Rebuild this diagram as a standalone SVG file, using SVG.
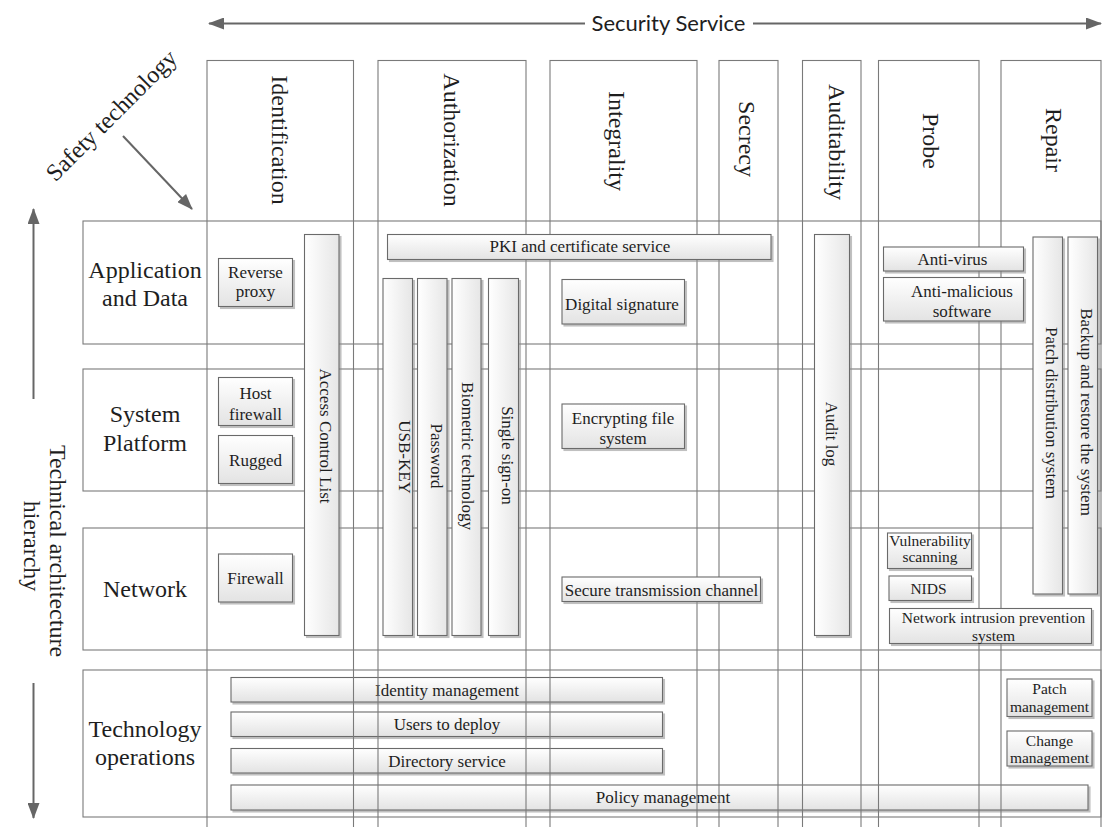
<svg xmlns="http://www.w3.org/2000/svg" width="1102" height="827" viewBox="0 0 1102 827">
  <defs>
    <linearGradient id="gH" x1="0" y1="0" x2="0" y2="1">
      <stop offset="0" stop-color="#ffffff"/>
      <stop offset="1" stop-color="#e3e3e3"/>
    </linearGradient>
    <linearGradient id="gV" x1="0" y1="0" x2="1" y2="0">
      <stop offset="0" stop-color="#ffffff"/>
      <stop offset="1" stop-color="#e6e6e6"/>
    </linearGradient>
    <filter id="shadow" x="-10%" y="-10%" width="130%" height="130%">
      <feDropShadow dx="2" dy="2" stdDeviation="0.7" flood-color="#8c8c8c" flood-opacity="0.55"/>
    </filter>
    <marker id="arrow" viewBox="0 0 16 12" refX="15" refY="6" markerWidth="16" markerHeight="12" markerUnits="userSpaceOnUse" orient="auto">
      <path d="M0,0 L16,6 L0,12 Z" fill="#666666"/>
    </marker>
    <style>
      .frame { fill: none; stroke: #7a7a7a; stroke-width: 1.1; }
      .hbox { fill: url(#gH); stroke: #6a6a6a; stroke-width: 1.1; filter: url(#shadow); }
      .vbox { fill: url(#gV); stroke: #6a6a6a; stroke-width: 1.1; filter: url(#shadow); }
      .conn { fill: none; stroke: #666666; stroke-width: 2; }
      .hdr { font-family: "Liberation Serif", "Times New Roman", serif; font-size: 24px; fill: #1e1e1e; text-anchor: middle; }
      .lbl { font-family: "Liberation Serif", "Times New Roman", serif; font-size: 17px; fill: #1e1e1e; text-anchor: middle; }
      .sm { font-size: 15.5px; }
      .sans { font-family: Lato, "Liberation Sans", Arial, sans-serif; font-size: 21px; fill: #1e1e1e; text-anchor: middle; }
    </style>
  </defs>

  <rect width="1102" height="827" fill="#ffffff"/>

  <!-- architecture layers (rows) -->
  <g id="rows">
    <g id="row-app">
      <rect class="frame" x="83" y="221" width="1018" height="123"/>
      <text class="hdr" x="145" y="278">Application</text>
      <text class="hdr" x="145" y="306">and Data</text>
    </g>
    <g id="row-sys">
      <rect class="frame" x="83" y="369" width="1018" height="122"/>
      <text class="hdr" x="145" y="422">System</text>
      <text class="hdr" x="145" y="451">Platform</text>
    </g>
    <g id="row-net">
      <rect class="frame" x="83" y="528" width="1018" height="122"/>
      <text class="hdr" x="145" y="597">Network</text>
    </g>
    <g id="row-ops">
      <rect class="frame" x="83" y="670" width="1018" height="147"/>
      <text class="hdr" x="145" y="737">Technology</text>
      <text class="hdr" x="145" y="765">operations</text>
    </g>
  </g>

  <!-- operations boxes (sit under the column lines) -->
  <g id="ops-boxes">
    <g id="identity-management">
      <rect class="hbox" x="231" y="677.5" width="431.5" height="24.5"/>
      <text class="lbl" x="447" y="695.5">Identity management</text>
    </g>
    <g id="users-to-deploy">
      <rect class="hbox" x="231" y="712" width="431.5" height="24.5"/>
      <text class="lbl" x="447" y="730">Users to deploy</text>
    </g>
    <g id="directory-service">
      <rect class="hbox" x="231" y="748.5" width="431.5" height="24.5"/>
      <text class="lbl" x="447" y="766.5">Directory service</text>
    </g>
    <g id="policy-management">
      <rect class="hbox" x="231" y="785" width="857" height="25"/>
      <text class="lbl" x="663" y="803">Policy management</text>
    </g>
    <g id="patch-management">
      <rect class="hbox" x="1007" y="679" width="85" height="37.5"/>
      <text class="lbl sm" x="1049.5" y="694">Patch</text>
      <text class="lbl sm" x="1049.5" y="711.5">management</text>
    </g>
    <g id="change-management">
      <rect class="hbox" x="1007" y="731" width="85" height="35"/>
      <text class="lbl sm" x="1049.5" y="745.5">Change</text>
      <text class="lbl sm" x="1049.5" y="763">management</text>
    </g>
  </g>

  <!-- security services (columns) -->
  <g id="columns">
    <g id="col-identification">
      <rect class="frame" x="207" y="60.5" width="146.5" height="780"/>
      <text class="hdr" transform="translate(272,140) rotate(90)">Identification</text>
    </g>
    <g id="col-authorization">
      <rect class="frame" x="378" y="60.5" width="148" height="780"/>
      <text class="hdr" transform="translate(444,140) rotate(90)">Authorization</text>
    </g>
    <g id="col-integrality">
      <rect class="frame" x="550" y="60.5" width="147" height="780"/>
      <text class="hdr" transform="translate(609,141) rotate(90)">Integrality</text>
    </g>
    <g id="col-secrecy">
      <rect class="frame" x="719" y="60.5" width="59" height="780"/>
      <text class="hdr" transform="translate(739,139) rotate(90)">Secrecy</text>
    </g>
    <g id="col-auditability">
      <rect class="frame" x="802.5" y="60.5" width="58.5" height="780"/>
      <text class="hdr" transform="translate(829,142) rotate(90)">Auditability</text>
    </g>
    <g id="col-probe">
      <rect class="frame" x="878.5" y="60.5" width="100.5" height="780"/>
      <text class="hdr" transform="translate(923,141) rotate(90)">Probe</text>
    </g>
    <g id="col-repair">
      <rect class="frame" x="1001" y="60.5" width="100" height="780"/>
      <text class="hdr" transform="translate(1046,140) rotate(90)">Repair</text>
    </g>
  </g>

  <!-- technology boxes -->
  <g id="tech-boxes">
    <g id="reverse-proxy">
      <rect class="hbox" x="218.5" y="258.5" width="74" height="48"/>
      <text class="lbl" x="255.5" y="278">Reverse</text>
      <text class="lbl" x="255.5" y="297">proxy</text>
    </g>
    <g id="host-firewall">
      <rect class="hbox" x="218.5" y="377.5" width="74" height="48"/>
      <text class="lbl" x="255.5" y="399">Host</text>
      <text class="lbl" x="255.5" y="420">firewall</text>
    </g>
    <g id="rugged">
      <rect class="hbox" x="218.5" y="435.5" width="74" height="48"/>
      <text class="lbl" x="255.5" y="466">Rugged</text>
    </g>
    <g id="firewall">
      <rect class="hbox" x="218.5" y="554" width="74" height="48"/>
      <text class="lbl" x="255.5" y="584">Firewall</text>
    </g>
    <g id="access-control-list">
      <rect class="vbox" x="304.5" y="234.5" width="34.5" height="401"/>
      <text class="lbl" transform="translate(320,436) rotate(90)">Access Control List</text>
    </g>
    <g id="pki">
      <rect class="hbox" x="387.5" y="234.5" width="383.5" height="25"/>
      <text class="lbl" x="580" y="252">PKI and certificate service</text>
    </g>
    <g id="usb-key">
      <rect class="vbox" x="383" y="278.5" width="29.5" height="357"/>
      <text class="lbl" transform="translate(399,457) rotate(90)">USB-KEY</text>
    </g>
    <g id="password">
      <rect class="vbox" x="417.5" y="278.5" width="29.5" height="357"/>
      <text class="lbl" transform="translate(430.5,456) rotate(90)">Password</text>
    </g>
    <g id="biometric">
      <rect class="vbox" x="452" y="278.5" width="29" height="357"/>
      <text class="lbl" transform="translate(462,456) rotate(90)">Biometric technology</text>
    </g>
    <g id="single-sign-on">
      <rect class="vbox" x="488.5" y="278.5" width="30" height="357"/>
      <text class="lbl" transform="translate(502,455.5) rotate(90)">Single sign-on</text>
    </g>
    <g id="digital-signature">
      <rect class="hbox" x="562" y="279.5" width="122.5" height="44.5"/>
      <text class="lbl" x="622" y="309.5">Digital signature</text>
    </g>
    <g id="encrypting-fs">
      <rect class="hbox" x="562" y="404" width="122.5" height="44.5"/>
      <text class="lbl" x="623" y="423.5">Encrypting file</text>
      <text class="lbl" x="623" y="443.5">system</text>
    </g>
    <g id="secure-channel">
      <rect class="hbox" x="562" y="577" width="198.5" height="24.5"/>
      <text class="lbl" x="661.5" y="595.5">Secure transmission channel</text>
    </g>
    <g id="audit-log">
      <rect class="vbox" x="814.5" y="234.5" width="35" height="401"/>
      <text class="lbl" transform="translate(826,434) rotate(90)">Audit log</text>
    </g>
    <g id="anti-virus">
      <rect class="hbox" x="883.5" y="247" width="140" height="24"/>
      <text class="lbl" x="952.5" y="265">Anti-virus</text>
    </g>
    <g id="anti-malicious">
      <rect class="hbox" x="883.5" y="277.5" width="140" height="43.5"/>
      <text class="lbl" x="962" y="297">Anti-malicious</text>
      <text class="lbl" x="962" y="316.5">software</text>
    </g>
    <g id="vulnerability-scanning">
      <rect class="hbox" x="887.5" y="533" width="84" height="35.5"/>
      <text class="lbl sm" x="930" y="545.5">Vulnerability</text>
      <text class="lbl sm" x="930" y="562">scanning</text>
    </g>
    <g id="nids">
      <rect class="hbox" x="889" y="576" width="82.5" height="24.5"/>
      <text class="lbl sm" x="928.5" y="593.5">NIDS</text>
    </g>
    <g id="nips">
      <rect class="hbox" x="889.5" y="608.5" width="202" height="35"/>
      <text class="lbl sm" x="993.5" y="622.5">Network intrusion prevention</text>
      <text class="lbl sm" x="993.5" y="641">system</text>
    </g>
    <g id="patch-distribution">
      <rect class="vbox" x="1033" y="237" width="29.5" height="357"/>
      <text class="lbl" transform="translate(1045.5,413) rotate(90)">Patch distribution system</text>
    </g>
    <g id="backup-restore">
      <rect class="vbox" x="1068" y="237" width="29.5" height="357"/>
      <text class="lbl" transform="translate(1080.5,412) rotate(90)">Backup and restore the system</text>
    </g>
  </g>

  <!-- axis arrows and their labels -->
  <g id="connectors">
    <line class="conn" x1="585" y1="23.5" x2="209" y2="23.5" marker-end="url(#arrow)"/>
    <line class="conn" x1="753" y1="23.5" x2="1101" y2="23.5" marker-end="url(#arrow)"/>
    <line class="conn" x1="123" y1="136" x2="192" y2="209" marker-end="url(#arrow)"/>
    <line class="conn" x1="33.5" y1="399" x2="33.5" y2="209" marker-end="url(#arrow)"/>
    <line class="conn" x1="33.5" y1="683" x2="33.5" y2="818" marker-end="url(#arrow)"/>
  </g>
  <g id="axis-labels">
    <text class="sans" x="668.5" y="30.5" textLength="154" lengthAdjust="spacingAndGlyphs">Security Service</text>
    <text class="hdr" transform="translate(117,121) rotate(-45)">Safety technology</text>
    <text class="hdr" transform="translate(50,551) rotate(90)">Technical architecture</text>
    <text class="hdr" transform="translate(24,546) rotate(90)">hierarchy</text>
  </g>
</svg>
